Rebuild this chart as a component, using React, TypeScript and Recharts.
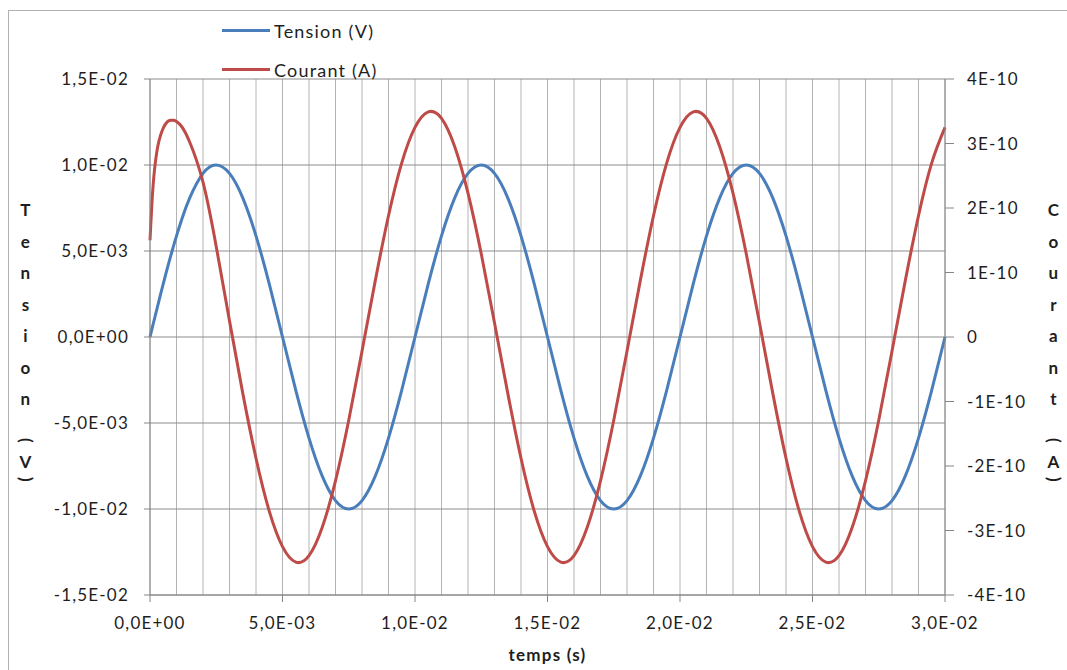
import React from "react";
import { LineChart, Line, XAxis, YAxis, CartesianGrid, Legend } from "recharts";

// time (s)
const temps = [
  0, 0.0001, 0.0002, 0.0003, 0.0004, 0.0005, 0.0006, 0.0007, 0.0008, 0.0009,
  0.001, 0.0012, 0.0015, 0.002, 0.0025,
  0.003, 0.0035, 0.004, 0.0045, 0.005, 0.0055, 0.006, 0.0065, 0.007, 0.0075,
  0.008, 0.0085, 0.009, 0.0095, 0.01, 0.0105, 0.011, 0.0115, 0.012, 0.0125,
  0.013, 0.0135, 0.014, 0.0145, 0.015, 0.0155, 0.016, 0.0165, 0.017, 0.0175,
  0.018, 0.0185, 0.019, 0.0195, 0.02, 0.0205, 0.021, 0.0215, 0.022, 0.0225,
  0.023, 0.0235, 0.024, 0.0245, 0.025, 0.0255, 0.026, 0.0265, 0.027, 0.0275,
  0.028, 0.0285, 0.029, 0.0295, 0.03,
];

// Tension (V)
const tension = [
  0, 0.00063, 0.00125, 0.00187, 0.00249, 0.00309, 0.00368, 0.00426, 0.00482, 0.00536,
  0.00588, 0.00685, 0.00809, 0.00951, 0.01,
  0.00951, 0.00809, 0.00588, 0.00309, 0, -0.00309, -0.00588, -0.00809, -0.00951, -0.01,
  -0.00951, -0.00809, -0.00588, -0.00309, 0, 0.00309, 0.00588, 0.00809, 0.00951, 0.01,
  0.00951, 0.00809, 0.00588, 0.00309, 0, -0.00309, -0.00588, -0.00809, -0.00951, -0.01,
  -0.00951, -0.00809, -0.00588, -0.00309, 0, 0.00309, 0.00588, 0.00809, 0.00951, 0.01,
  0.00951, 0.00809, 0.00588, 0.00309, 0, -0.00309, -0.00588, -0.00809, -0.00951, -0.01,
  -0.00951, -0.00809, -0.00588, -0.00309, 0,
];

// Courant, in units of 1E-10 A
const courant = [
  1.5, 2.25, 2.7, 2.97, 3.13, 3.24, 3.31, 3.35, 3.36, 3.36,
  3.34, 3.26, 3.02, 2.4, 1.4,
  0.25, -0.87, -1.88, -2.7, -3.25, -3.49, -3.39, -2.95, -2.23, -1.29,
  -0.22, 0.87, 1.88, 2.7, 3.25, 3.49, 3.39, 2.95, 2.23, 1.29,
  0.22, -0.87, -1.88, -2.7, -3.25, -3.49, -3.39, -2.95, -2.23, -1.29,
  -0.22, 0.87, 1.88, 2.7, 3.25, 3.49, 3.39, 2.95, 2.23, 1.29,
  0.22, -0.87, -1.88, -2.7, -3.25, -3.49, -3.39, -2.95, -2.23, -1.29,
  -0.22, 0.87, 1.88, 2.7, 3.25,
];
const COURANT_UNIT = 1e-10;

const seriesNames = ["Tension (V)", "Courant (A)"];

const xMajorTicks = [0, 0.005, 0.01, 0.015, 0.02, 0.025, 0.03];
const xMinorTicks = Array.from({ length: 31 }, (_, i) => i / 1000);
const tensionTicks = [-0.015, -0.01, -0.005, 0, 0.005, 0.01, 0.015];
const courantTicks = [-4e-10, -3e-10, -2e-10, -1e-10, 0, 1e-10, 2e-10, 3e-10, 4e-10];

const data = temps.map((t, i) => ({
  t,
  tension: tension[i],
  courant: courant[i] * COURANT_UNIT,
}));

const TEXT = "#1e1e1e";
const AXIS = "#868686";

// 1.5e-2 -> "1,5E-02"
const sci = (v: number) => {
  const [m, e] = v.toExponential(1).split("e");
  const n = parseInt(e, 10);
  return `${m.replace(".", ",")}E${n < 0 ? "-" : "+"}${String(Math.abs(n)).padStart(2, "0")}`;
};
const sciShort = (v: number) => (v === 0 ? "0" : v.toExponential(0).toUpperCase());

// Excel-style stacked vertical title, parentheses turned sideways
const stackedTitle = (word: string, unit: string, dx: number) => (props: any) => {
  const vb = props.viewBox;
  const x = vb.x + dx;
  const top = vb.y + vb.height / 2 - 121;
  const step = 31.5;
  const unitY = top + step * (word.length + 1);
  const openY = unitY - 27;
  const closeY = unitY + 12;
  return (
    <g fill={TEXT} fontWeight="bold" fontSize={17} textAnchor="middle">
      {word.split("").map((ch, i) => (
        <text key={i} x={x} y={top + step * i}>
          {ch}
        </text>
      ))}
      <text x={x} y={openY} dominantBaseline="central" transform={`rotate(90 ${x} ${openY})`}>
        (
      </text>
      <text x={x} y={unitY}>
        {unit}
      </text>
      <text x={x} y={closeY} dominantBaseline="central" transform={`rotate(90 ${x} ${closeY})`}>
        )
      </text>
    </g>
  );
};

const xTitle = (props: any) => {
  const vb = props.viewBox;
  return (
    <text x={vb.x + vb.width / 2} y={vb.y + 66} fill={TEXT} fontWeight="bold" fontSize={17} textAnchor="middle">
      temps (s)
    </text>
  );
};

const renderLegend = (props: any) => {
  const items = [...(props.payload || [])].sort(
    (a: any, b: any) => seriesNames.indexOf(a.value) - seriesNames.indexOf(b.value)
  );
  return (
    <div>
      {items.map((p: any, i: number) => (
        <div key={i} style={{ display: "flex", alignItems: "center", height: 39 }}>
          <span style={{ display: "inline-block", width: 48, height: 3, background: p.color }} />
          <span style={{ marginLeft: 4, fontSize: 18, color: TEXT, whiteSpace: "nowrap" }}>{p.value}</span>
        </div>
      ))}
    </div>
  );
};

export default function App() {
  return (
    <div
      style={{
        position: "absolute",
        left: 0,
        top: 0,
        width: 1067,
        height: 670,
        background: "#fff",
        fontFamily: "Lato, 'Open Sans', sans-serif",
        letterSpacing: "1.2px",
        overflow: "hidden",
      }}
    >
      <div
        style={{
          position: "absolute",
          left: 8,
          top: 10,
          right: -2,
          bottom: -2,
          borderTop: "1px solid #b0b0b0",
          borderLeft: "1px solid #b0b0b0",
        }}
      />
      <LineChart width={1067} height={670} data={data} margin={{ top: 79, right: 0, bottom: 0, left: 0 }}>
        <CartesianGrid xAxisId="minor" yAxisId="left" horizontal={false} stroke="#b4b4b4" />
        <CartesianGrid xAxisId="main" yAxisId="left" vertical={false} stroke="#8c8c8c" />
        <XAxis
          xAxisId="main"
          dataKey="t"
          type="number"
          domain={[0, 0.03]}
          ticks={xMajorTicks}
          interval={0}
          tickFormatter={sci}
          height={75}
          stroke={AXIS}
          tickSize={7}
          tickMargin={15}
          tick={{ fill: TEXT, fontSize: 17 }}
          label={xTitle}
        />
        <XAxis xAxisId="minor" dataKey="t" type="number" domain={[0, 0.03]} ticks={xMinorTicks} interval={0} hide />
        <YAxis
          yAxisId="left"
          orientation="left"
          type="number"
          domain={[-0.015, 0.015]}
          ticks={tensionTicks}
          interval={0}
          tickFormatter={sci}
          width={150}
          stroke={AXIS}
          tickSize={6}
          tickMargin={15}
          tick={{ fill: TEXT, fontSize: 17 }}
          label={stackedTitle("Tension", "V", 26)}
        />
        <YAxis
          yAxisId="right"
          orientation="right"
          type="number"
          domain={[-4e-10, 4e-10]}
          ticks={courantTicks}
          interval={0}
          tickFormatter={sciShort}
          width={122}
          stroke={AXIS}
          tickSize={9}
          tickMargin={13}
          tick={{ fill: TEXT, fontSize: 17, textAnchor: "start" }}
          label={stackedTitle("Courant", "A", 109)}
        />
        <Legend
          layout="horizontal"
          verticalAlign="middle"
          align="center"
          content={renderLegend}
          wrapperStyle={{ left: 222, top: 11, width: 220, height: 80 }}
        />
        <Line
          xAxisId="main"
          yAxisId="left"
          name={seriesNames[0]}
          dataKey="tension"
          type="natural"
          stroke="#4a7ebb"
          strokeWidth={3}
          dot={false}
          isAnimationActive={false}
        />
        <Line
          xAxisId="main"
          yAxisId="right"
          name={seriesNames[1]}
          dataKey="courant"
          type="natural"
          stroke="#be4b48"
          strokeWidth={3}
          dot={false}
          isAnimationActive={false}
        />
      </LineChart>
    </div>
  );
}
